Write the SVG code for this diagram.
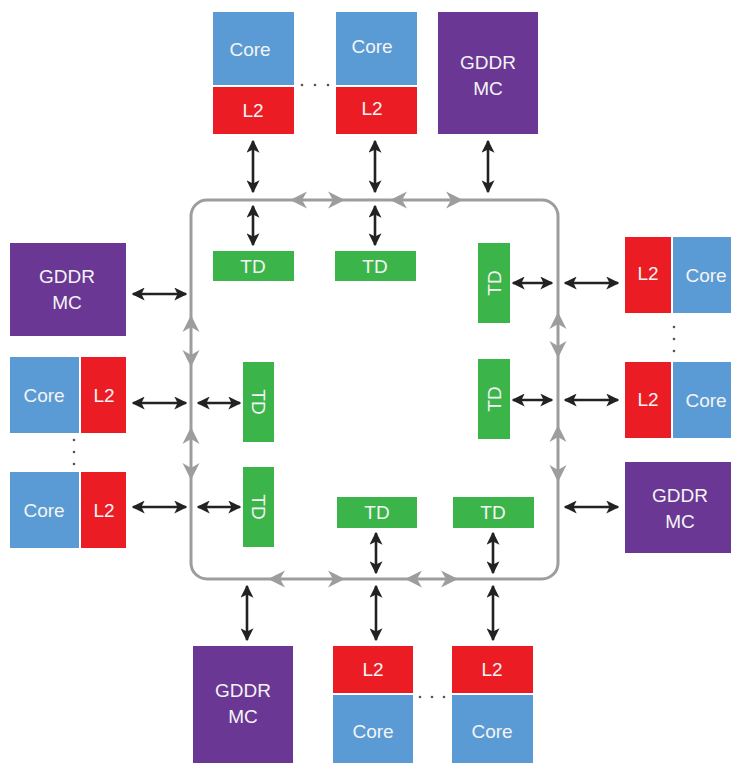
<svg xmlns="http://www.w3.org/2000/svg" width="731" height="763" viewBox="0 0 731 763">
<defs>
<style>
.core{fill:#5b9bd5}
.l2{fill:#ec1c24}
.mc{fill:#6a3795}
.td{fill:#3bb54a}
.t{fill:#f4f4f4;font-family:"Liberation Sans",Arial,sans-serif;font-size:19px;text-anchor:middle;dominant-baseline:central}
.blk{stroke:#222;stroke-width:2.6;fill:none;marker-start:url(#ah);marker-end:url(#ah)}
.ring{stroke:#9d9d9d;stroke-width:3;fill:none}
.g{fill:#9d9d9d}
.dot{fill:#555}
</style>
<marker id="ah" viewBox="0 0 10 10" refX="9" refY="5" markerWidth="5" markerHeight="5" orient="auto-start-reverse" markerUnits="strokeWidth">
<path d="M0,0 L10,5 L0,10 L2.5,5 z" fill="#222"/>
</marker>
<path id="ga" d="M0,0 L-17,-8.5 L-12,0 L-17,8.5 z"/>
</defs>
<rect width="731" height="763" fill="#fff"/>

<g id="ring">
<rect class="ring" x="191" y="200" width="367" height="379" rx="16"/>
<g class="g">
<use href="#ga" transform="translate(290,200) rotate(180)"/>
<use href="#ga" transform="translate(345,200)"/>
<use href="#ga" transform="translate(390,200) rotate(180)"/>
<use href="#ga" transform="translate(463,200)"/>
<use href="#ga" transform="translate(191,315) rotate(-90)"/>
<use href="#ga" transform="translate(191,367) rotate(90)"/>
<use href="#ga" transform="translate(191,427) rotate(-90)"/>
<use href="#ga" transform="translate(191,480) rotate(90)"/>
<use href="#ga" transform="translate(558,312) rotate(-90)"/>
<use href="#ga" transform="translate(558,358) rotate(90)"/>
<use href="#ga" transform="translate(558,425) rotate(-90)"/>
<use href="#ga" transform="translate(558,482) rotate(90)"/>
<use href="#ga" transform="translate(268,579) rotate(180)"/>
<use href="#ga" transform="translate(345,579)"/>
<use href="#ga" transform="translate(405,579) rotate(180)"/>
<use href="#ga" transform="translate(458,579)"/>
</g>
</g>

<g id="connectors">
<line class="blk" x1="253" y1="141" x2="253" y2="192"/>
<line class="blk" x1="253" y1="206" x2="253" y2="245"/>
<line class="blk" x1="375" y1="141" x2="375" y2="192"/>
<line class="blk" x1="375" y1="206" x2="375" y2="245"/>
<line class="blk" x1="488" y1="141" x2="488" y2="192"/>
<line class="blk" x1="133" y1="294" x2="186" y2="294"/>
<line class="blk" x1="133" y1="403" x2="186" y2="403"/>
<line class="blk" x1="198" y1="403" x2="240" y2="403"/>
<line class="blk" x1="133" y1="507" x2="186" y2="507"/>
<line class="blk" x1="198" y1="507" x2="240" y2="507"/>
<line class="blk" x1="513" y1="283" x2="552" y2="283"/>
<line class="blk" x1="565" y1="283" x2="618" y2="283"/>
<line class="blk" x1="513" y1="400" x2="552" y2="400"/>
<line class="blk" x1="565" y1="400" x2="618" y2="400"/>
<line class="blk" x1="565" y1="507" x2="618" y2="507"/>
<line class="blk" x1="376" y1="533" x2="376" y2="573"/>
<line class="blk" x1="376" y1="586" x2="376" y2="640"/>
<line class="blk" x1="493" y1="533" x2="493" y2="573"/>
<line class="blk" x1="493" y1="586" x2="493" y2="640"/>
<line class="blk" x1="247" y1="586" x2="247" y2="640"/>
</g>

<g id="top-core1">
<rect class="core" x="213" y="12" width="81" height="73"/><text class="t" x="250" y="49">Core</text>
<rect class="l2" x="213" y="87" width="81" height="47"/><text class="t" x="253" y="110">L2</text>
</g>
<g id="top-core2">
<rect class="core" x="336" y="12" width="81" height="73"/><text class="t" x="372" y="46">Core</text>
<rect class="l2" x="336" y="87" width="81" height="47"/><text class="t" x="372" y="108">L2</text>
</g>
<g id="top-mc">
<rect class="mc" x="438" y="12" width="100" height="122"/>
<text class="t" x="488" y="62">GDDR</text><text class="t" x="488" y="88">MC</text>
</g>
<g id="dots" class="dot">
<circle cx="302" cy="85" r="1.3"/><circle cx="315" cy="85" r="1.3"/><circle cx="328" cy="85" r="1.3"/>
<circle cx="74" cy="440" r="1.3"/><circle cx="74" cy="452" r="1.3"/><circle cx="74" cy="464" r="1.3"/>
<circle cx="674" cy="327" r="1.3"/><circle cx="674" cy="339" r="1.3"/><circle cx="674" cy="351" r="1.3"/>
<circle cx="420" cy="697" r="1.3"/><circle cx="432" cy="697" r="1.3"/><circle cx="444" cy="697" r="1.3"/>
</g>

<g id="td-top1"><rect class="td" x="213" y="251" width="81" height="30"/><text class="t" x="253" y="266">TD</text></g>
<g id="td-top2"><rect class="td" x="335" y="251" width="81" height="30"/><text class="t" x="375" y="266">TD</text></g>
<g id="td-right1"><rect class="td" x="478" y="243" width="32" height="80"/><text class="t" transform="translate(494,283) rotate(-90)">TD</text></g>
<g id="td-right2"><rect class="td" x="478" y="359" width="32" height="80"/><text class="t" transform="translate(494,399) rotate(-90)">TD</text></g>
<g id="td-left1"><rect class="td" x="243" y="362" width="31" height="80"/><text class="t" transform="translate(258,402) rotate(90)">TD</text></g>
<g id="td-left2"><rect class="td" x="243" y="467" width="31" height="80"/><text class="t" transform="translate(258,507) rotate(90)">TD</text></g>
<g id="td-bot1"><rect class="td" x="337" y="497" width="80" height="31"/><text class="t" x="377" y="512">TD</text></g>
<g id="td-bot2"><rect class="td" x="453" y="497" width="81" height="31"/><text class="t" x="493" y="512">TD</text></g>

<g id="left-mc">
<rect class="mc" x="10" y="243" width="116" height="93"/>
<text class="t" x="67" y="276">GDDR</text><text class="t" x="67" y="302">MC</text>
</g>
<g id="left-core1">
<rect class="core" x="10" y="357" width="69" height="76"/><text class="t" x="44" y="395">Core</text>
<rect class="l2" x="81" y="357" width="45" height="76"/><text class="t" x="104" y="395">L2</text>
</g>
<g id="left-core2">
<rect class="core" x="10" y="472" width="69" height="76"/><text class="t" x="44" y="510">Core</text>
<rect class="l2" x="81" y="472" width="45" height="76"/><text class="t" x="104" y="510">L2</text>
</g>

<g id="right-core1">
<rect class="l2" x="625" y="237" width="46" height="76"/><text class="t" x="648" y="273">L2</text>
<rect class="core" x="673" y="237" width="58" height="76"/><text class="t" x="706" y="275">Core</text>
</g>
<g id="right-core2">
<rect class="l2" x="625" y="362" width="46" height="76"/><text class="t" x="648" y="399">L2</text>
<rect class="core" x="673" y="362" width="58" height="76"/><text class="t" x="706" y="400">Core</text>
</g>
<g id="right-mc">
<rect class="mc" x="625" y="462" width="106" height="91"/>
<text class="t" x="680" y="495">GDDR</text><text class="t" x="680" y="521">MC</text>
</g>

<g id="bot-mc">
<rect class="mc" x="193" y="646" width="100" height="117"/>
<text class="t" x="243" y="690">GDDR</text><text class="t" x="243" y="716">MC</text>
</g>
<g id="bot-core1">
<rect class="l2" x="333" y="646" width="80" height="47"/><text class="t" x="373" y="669">L2</text>
<rect class="core" x="333" y="695" width="80" height="68"/><text class="t" x="373" y="731">Core</text>
</g>
<g id="bot-core2">
<rect class="l2" x="452" y="646" width="81" height="47"/><text class="t" x="492" y="669">L2</text>
<rect class="core" x="452" y="695" width="81" height="68"/><text class="t" x="492" y="731">Core</text>
</g>
</svg>
